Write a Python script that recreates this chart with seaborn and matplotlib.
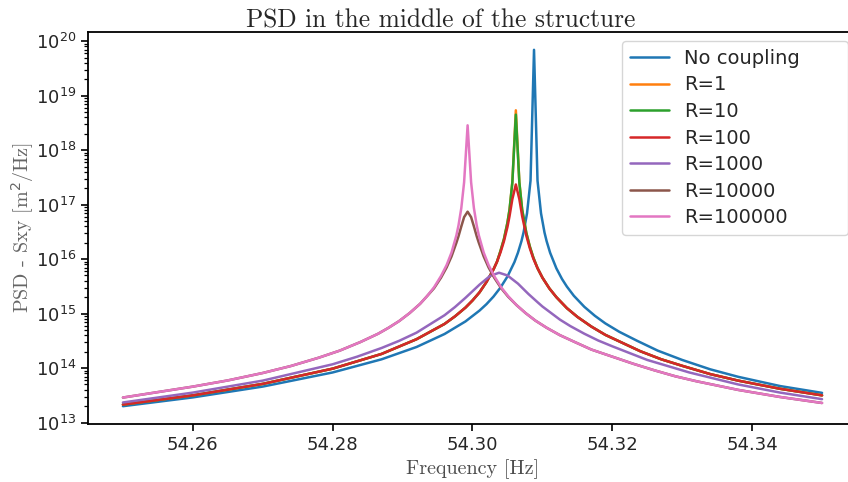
import matplotlib
matplotlib.use("Agg")
import matplotlib.pyplot as plt
import matplotlib.ticker as mticker
import seaborn as sns

# --- DATOS ---
labels = ["No coupling", "R=1", "R=10", "R=100", "R=1000", "R=10000", "R=100000"]
y_ticks = [1e13, 1e14, 1e15, 1e16, 1e17, 1e18, 1e19, 1e20]
x_ticks = [54.26, 54.28, 54.30, 54.32, 54.34]

# sin acoplamiento
f_nc = [54.250, 54.260, 54.270, 54.280, 54.287, 54.292, 54.296, 54.299, 54.301,
        54.302, 54.303, 54.304, 54.305, 54.306, 54.3065, 54.307, 54.3073, 54.3078,
        54.3083, 54.3088, 54.3093, 54.3098, 54.3103, 54.3106, 54.3111, 54.312,
        54.3128, 54.3135, 54.3145, 54.316, 54.3175, 54.319, 54.321, 54.3235,
        54.3265, 54.330, 54.334, 54.338, 54.344, 54.350]
psd_nc = [2.0e13, 2.90e13, 4.58e13, 8.32e13, 1.45e14, 2.44e14, 4.22e14, 7.19e14,
          1.135e15, 1.49e15, 2.05e15, 3.0e15, 4.79e15, 8.81e15, 1.31e16, 2.13e16,
          3.07e16, 6.92e16, 2.75e17, 6.92e19, 2.75e17, 6.92e16, 3.07e16, 2.14e16,
          1.31e16, 6.76e15, 4.32e15, 3.13e15, 2.12e15, 1.33e15, 9.12e14, 6.61e14,
          4.63e14, 3.19e14, 2.09e14, 1.41e14, 9.5e13, 6.92e13, 4.68e13, 3.51e13]

# R=1, R=10, R=100 (misma malla)
f_r = [54.250, 54.260, 54.270, 54.280, 54.287, 54.292, 54.296, 54.2975, 54.299,
       54.300, 54.301, 54.302, 54.303, 54.3035, 54.304, 54.3045, 54.305, 54.3053,
       54.3057, 54.3062, 54.3067, 54.3071, 54.3077, 54.3082, 54.3087, 54.3093,
       54.310, 54.311, 54.312, 54.3135, 54.315, 54.317, 54.319, 54.3215, 54.324,
       54.327, 54.330, 54.334, 54.338, 54.344, 54.350]
psd_r1 = [2.14e13, 3.16e13, 5.13e13, 9.77e13, 1.82e14, 3.39e14, 6.46e14, 8.91e14,
          1.29e15, 1.74e15, 2.45e15, 3.80e15, 6.46e15, 8.91e15, 1.41e16, 2.34e16,
          4.68e16, 8.13e16, 2.57e17, 5.37e18, 2.57e17, 8.13e16, 3.02e16, 1.70e16,
          1.07e16, 6.82e15, 4.57e15, 2.89e15, 2.0e15, 1.26e15, 8.71e14, 5.78e14,
          4.07e14, 2.88e14, 2.04e14, 1.45e14, 1.10e14, 7.76e13, 5.89e13, 4.17e13,
          3.16e13]
psd_r10 = [2.14e13, 3.16e13, 5.13e13, 9.77e13, 1.82e14, 3.39e14, 6.46e14, 8.91e14,
           1.29e15, 1.74e15, 2.45e15, 3.80e15, 6.46e15, 8.91e15, 1.41e16, 2.34e16,
           4.68e16, 8.13e16, 2.57e17, 4.47e18, 2.57e17, 8.13e16, 3.02e16, 1.70e16,
           1.07e16, 6.82e15, 4.57e15, 2.89e15, 2.0e15, 1.26e15, 8.71e14, 5.78e14,
           4.07e14, 2.88e14, 2.04e14, 1.45e14, 1.10e14, 7.76e13, 5.89e13, 4.17e13,
           3.16e13]
psd_r100 = [2.14e13, 3.16e13, 5.13e13, 9.77e13, 1.82e14, 3.39e14, 6.46e14, 8.91e14,
            1.29e15, 1.74e15, 2.45e15, 3.80e15, 6.46e15, 8.91e15, 1.32e16, 2.13e16,
            3.89e16, 6.17e16, 1.26e17, 2.34e17, 1.26e17, 6.17e16, 2.69e16, 1.58e16,
            1.02e16, 6.82e15, 4.57e15, 2.89e15, 2.0e15, 1.26e15, 8.71e14, 5.78e14,
            4.07e14, 2.88e14, 2.04e14, 1.45e14, 1.10e14, 7.76e13, 5.89e13, 4.17e13,
            3.16e13]

# R=1000
f_r1000 = [54.250, 54.260, 54.270, 54.280, 54.2835, 54.287, 54.2895, 54.292, 54.296,
           54.2975, 54.299, 54.300, 54.301, 54.3025, 54.3038, 54.305, 54.3065,
           54.308, 54.3093, 54.310, 54.3125, 54.314, 54.316, 54.318, 54.320,
           54.325, 54.331, 54.338, 54.344, 54.350]
psd_r1000 = [2.34e13, 3.55e13, 5.89e13, 1.175e14, 1.62e14, 2.34e14, 3.16e14, 4.47e14,
             9.33e14, 1.32e15, 1.95e15, 2.57e15, 3.39e15, 4.90e15, 5.62e15, 5.01e15,
             3.55e15, 2.29e15, 1.62e15, 1.35e15, 7.76e14, 5.89e14, 4.27e14, 3.20e14,
             2.51e14, 1.41e14, 8.32e13, 5.01e13, 3.55e13, 2.69e13]

# R=10000, R=100000 (misma malla)
f_p = [54.250, 54.260, 54.265, 54.270, 54.274, 54.278, 54.281, 54.284, 54.2865,
       54.288, 54.2895, 54.291, 54.2925, 54.2935, 54.2945, 54.2955, 54.2963,
       54.297, 54.2977, 54.298, 54.2984, 54.2988, 54.2993, 54.2998, 54.3002,
       54.3006, 54.3009, 54.3016, 54.3023, 54.3031, 54.3041, 54.3051, 54.3063,
       54.3076, 54.309, 54.3106, 54.3125, 54.3146, 54.317, 54.320, 54.323,
       54.326, 54.329, 54.332, 54.338, 54.344, 54.350]
psd_r10000 = [2.88e13, 4.57e13, 5.94e13, 8.13e13, 1.09e14, 1.55e14, 2.09e14, 3.02e14,
              4.27e14, 5.50e14, 7.28e14, 1.02e15, 1.51e15, 2.09e15, 2.92e15, 4.57e15,
              7.03e15, 1.12e16, 2.0e16, 2.63e16, 3.98e16, 5.89e16, 7.41e16, 5.89e16,
              3.98e16, 2.63e16, 2.0e16, 1.12e16, 7.03e15, 4.57e15, 2.92e15, 2.04e15,
              1.43e15, 1.02e15, 7.43e14, 5.50e14, 4.02e14, 3.02e14, 2.19e14, 1.62e14,
              1.20e14, 9.12e13, 7.08e13, 5.75e13, 3.98e13, 2.95e13, 2.29e13]
psd_r100000 = [2.88e13, 4.57e13, 5.94e13, 8.13e13, 1.09e14, 1.55e14, 2.09e14, 3.02e14,
               4.27e14, 5.50e14, 7.28e14, 1.02e15, 1.51e15, 2.09e15, 3.04e15, 4.90e15,
               7.78e15, 1.32e16, 2.74e16, 4.17e16, 8.65e16, 2.57e17, 2.85e18, 2.57e17,
               8.65e16, 4.17e16, 2.74e16, 1.32e16, 7.78e15, 4.90e15, 3.04e15, 2.09e15,
               1.43e15, 1.02e15, 7.43e14, 5.50e14, 4.02e14, 3.02e14, 2.19e14, 1.62e14,
               1.20e14, 9.12e13, 7.08e13, 5.75e13, 3.98e13, 2.95e13, 2.29e13]

curvas = [(f_nc, psd_nc), (f_r, psd_r1), (f_r, psd_r10), (f_r, psd_r100),
          (f_r1000, psd_r1000), (f_p, psd_r10000), (f_p, psd_r100000)]

# --- GRAFICO ---
sns.set_style("ticks")
plt.rcParams["font.family"] = ["DejaVu Sans"]

fig = plt.figure(figsize=(8.48, 4.82), dpi=100)
# el eje sigue un poco mas alla del borde derecho, como en la figura original
ax = fig.add_axes([88 / 848, 58 / 482, 769 / 848, 392 / 482])

colores = sns.color_palette("tab10", 7)
for (f, p), nombre, c in zip(curvas, labels, colores):
    sns.lineplot(x=f, y=p, ax=ax, color=c, lw=1.8, label=nombre)

ax.set_yscale("log")
ax.set_xticks(x_ticks)
ax.set_yticks(y_ticks)
ax.yaxis.set_minor_locator(mticker.LogLocator(base=10, subs=range(2, 10), numticks=20))
ax.yaxis.set_minor_formatter(mticker.NullFormatter())

ax.set_title("PSD in the middle of the structure", fontfamily="cmr10",
             fontsize=18.3, x=0.458, pad=2)
ax.set_xlabel("Frequency [Hz]", fontfamily="cmr10", fontsize=14.5, color="0.3")
ax.set_ylabel(r"PSD - Sxy [m$^2$/Hz]", fontfamily="cmr10", fontsize=14.5,
              color="0.4", labelpad=0)

ax.tick_params(axis="both", which="major", labelsize=13, length=5, width=1.2,
               color="black")
ax.tick_params(axis="y", which="minor", length=3, width=0.9, color="black")
for s in ax.spines.values():
    s.set_linewidth(1.3)
    s.set_color("black")

ax.legend(loc="upper left", bbox_to_anchor=(622 / 848, 441 / 482, 226 / 848, 0),
          bbox_transform=fig.transFigure, mode="expand", borderaxespad=0,
          fontsize=14, labelspacing=0.39, borderpad=0.4, handlelength=2.0,
          frameon=True, fancybox=True, edgecolor="0.8", framealpha=0.8)

fig.savefig("out.png", dpi=100)
